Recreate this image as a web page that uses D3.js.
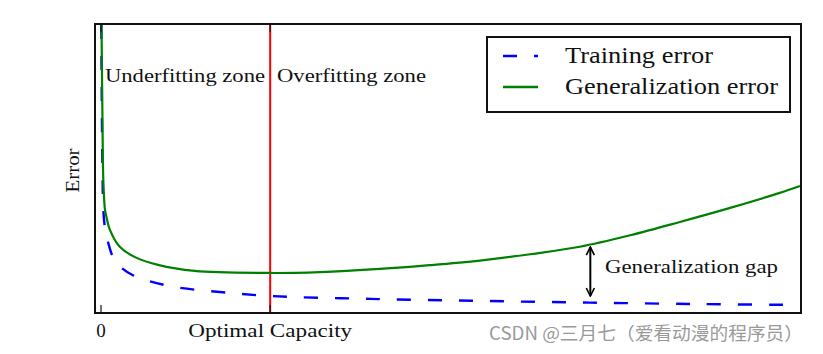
<!DOCTYPE html>
<html>
<head>
<meta charset="utf-8">
<script src="https://cdn.jsdelivr.net/npm/d3@7"></script>
<style>
  body { margin: 0; background: #fff; }
  svg text { font-family: "Liberation Serif", "DejaVu Serif", serif; fill: #111; }
</style>
</head>
<body>
<svg id="chart"></svg>
<script>
const width = 823;
const height = 354;
const margin = { top: 24, right: 22, bottom: 41, left: 95 };

// capacity (0..100 across the plot) and error values
const trainX = [0.04, 0.12, 0.22, 0.33, 0.6, 1.04, 1.8, 2.96, 4.5, 6.3, 10.6, 17, 24.2, 38.5, 54.2, 70, 85.7, 100];
const trainErr = [1.0, 0.7, 0.48, 0.358, 0.29, 0.243, 0.19, 0.156, 0.132, 0.115, 0.09, 0.073, 0.059, 0.049, 0.042, 0.036, 0.031, 0.028];

const genX = [0.07, 0.21, 0.33, 0.57, 0.72, 1.29, 2.72, 4.86, 8.15, 13.4, 24.2, 31.3, 39.9, 47, 54.2, 61.4, 68.5, 75.7, 82.8, 90, 97.1, 100];
const genErr = [1.0, 0.67, 0.462, 0.358, 0.34, 0.288, 0.229, 0.194, 0.167, 0.146, 0.139, 0.142, 0.153, 0.166, 0.182, 0.204, 0.23, 0.27, 0.316, 0.365, 0.417, 0.441];

const optimalCapacity = 24.2;
const tickValues = [0, optimalCapacity];
const tickLabels = ["0", "Optimal Capacity"];
const tickWidths = [null, 164];
const gapX = 70;
const gapRange = [0.229, 0.059];

const svg = d3.select("#chart")
  .attr("width", width)
  .attr("height", height);

const xScale = d3.scaleLinear()
  .domain([-0.86, 100.14])
  .range([margin.left, width - margin.right]);

const yScale = d3.scaleLinear()
  .domain([0, 1])
  .range([height - margin.bottom, margin.top + 1]);

const x0 = margin.left, x1 = width - margin.right;
const y0 = margin.top, y1 = height - margin.bottom;

svg.append("clipPath").attr("id", "plot")
  .append("rect")
  .attr("x", x0).attr("y", y0)
  .attr("width", x1 - x0).attr("height", y1 - y0);

const line = d3.line()
  .x(d => xScale(d[0]))
  .y(d => yScale(d[1]))
  .curve(d3.curveCatmullRom.alpha(0.5));

const plot = svg.append("g").attr("clip-path", "url(#plot)");

// optimal capacity marker
plot.append("line")
  .attr("x1", xScale(optimalCapacity)).attr("x2", xScale(optimalCapacity))
  .attr("y1", y0).attr("y2", y1)
  .attr("stroke", "#ff0000")
  .attr("stroke-width", 2);

plot.append("path")
  .datum(d3.zip(trainX, trainErr))
  .attr("fill", "none")
  .attr("stroke", "#0000ff")
  .attr("stroke-width", 2.4)
  .attr("stroke-dasharray", "14,17")
  .attr("d", line);

plot.append("path")
  .datum(d3.zip(genX, genErr))
  .attr("fill", "none")
  .attr("stroke", "#008000")
  .attr("stroke-width", 2.2)
  .attr("d", line);

// ticks top and bottom
tickValues.forEach(v => {
  svg.append("line")
    .attr("x1", xScale(v)).attr("x2", xScale(v))
    .attr("y1", y1).attr("y2", y1 - 8)
    .attr("stroke", "#111").attr("stroke-width", 1.2);
  svg.append("line")
    .attr("x1", xScale(v)).attr("x2", xScale(v))
    .attr("y1", y0).attr("y2", y0 + 8)
    .attr("stroke", "#111").attr("stroke-width", 1.2);
});

svg.selectAll("text.tick")
  .data(tickValues)
  .enter()
  .append("text")
  .attr("class", "tick")
  .attr("x", d => xScale(d))
  .attr("y", 337)
  .attr("text-anchor", "middle")
  .attr("font-size", 19)
  .each(function(d, i) {
    if (tickWidths[i]) {
      d3.select(this).attr("textLength", tickWidths[i]).attr("lengthAdjust", "spacingAndGlyphs");
    }
  })
  .text((d, i) => tickLabels[i]);

// frame
svg.append("rect")
  .attr("x", x0).attr("y", y0)
  .attr("width", x1 - x0).attr("height", y1 - y0)
  .attr("fill", "none")
  .attr("stroke", "#111")
  .attr("stroke-width", 2);

svg.append("text")
  .attr("transform", `translate(79,${(y0 + y1) / 2 + 2}) rotate(-90)`)
  .attr("text-anchor", "middle")
  .attr("font-size", 19)
  .attr("textLength", 44)
  .attr("lengthAdjust", "spacingAndGlyphs")
  .text("Error");

svg.append("text")
  .attr("x", 105)
  .attr("y", 82)
  .attr("font-size", 19)
  .attr("textLength", 160)
  .attr("lengthAdjust", "spacingAndGlyphs")
  .text("Underfitting zone");

svg.append("text")
  .attr("x", 277)
  .attr("y", 82)
  .attr("font-size", 19)
  .attr("textLength", 149)
  .attr("lengthAdjust", "spacingAndGlyphs")
  .text("Overfitting zone");

// generalization gap arrow
const defs = svg.append("defs");
defs.append("marker")
  .attr("id", "head")
  .attr("viewBox", "0 0 10 10")
  .attr("refX", 9).attr("refY", 5)
  .attr("markerWidth", 5).attr("markerHeight", 5)
  .attr("orient", "auto-start-reverse")
  .append("path")
  .attr("d", "M1,1 L9,5 L1,9")
  .attr("fill", "none")
  .attr("stroke", "#000")
  .attr("stroke-width", 1.6);

svg.append("line")
  .attr("x1", xScale(gapX)).attr("x2", xScale(gapX))
  .attr("y1", yScale(gapRange[0])).attr("y2", yScale(gapRange[1]))
  .attr("stroke", "#000")
  .attr("stroke-width", 2)
  .attr("marker-start", "url(#head)")
  .attr("marker-end", "url(#head)");

svg.append("text")
  .attr("x", 605)
  .attr("y", 273)
  .attr("font-size", 19)
  .attr("textLength", 173)
  .attr("lengthAdjust", "spacingAndGlyphs")
  .text("Generalization gap");

// legend
const legend = svg.append("g");
legend.append("rect")
  .attr("x", 487).attr("y", 37)
  .attr("width", 303).attr("height", 75)
  .attr("fill", "#fff")
  .attr("stroke", "#111")
  .attr("stroke-width", 2);

const legendItems = [
  { label: "Training error", color: "#0000ff", dash: "14,17", y: 56, w: 148 },
  { label: "Generalization error", color: "#008000", dash: null, y: 87, w: 213 }
];

legendItems.forEach(item => {
  legend.append("line")
    .attr("x1", 503).attr("x2", 538)
    .attr("y1", item.y).attr("y2", item.y)
    .attr("stroke", item.color)
    .attr("stroke-width", 2.4)
    .attr("stroke-dasharray", item.dash);
  legend.append("text")
    .attr("x", 565)
    .attr("y", item.y + 7)
    .attr("font-size", 23)
    .attr("textLength", item.w)
    .attr("lengthAdjust", "spacingAndGlyphs")
    .text(item.label);
});

svg.append("text")
  .attr("x", 489)
  .attr("y", 340)
  .style("font-family", "'Noto Sans CJK SC', sans-serif")
  .style("fill", "#9a9a9a")
  .attr("font-size", 18)
  .attr("textLength", 314)
  .attr("lengthAdjust", "spacingAndGlyphs")
  .text("CSDN @三月七（爱看动漫的程序员）");
</script>
</body>
</html>
